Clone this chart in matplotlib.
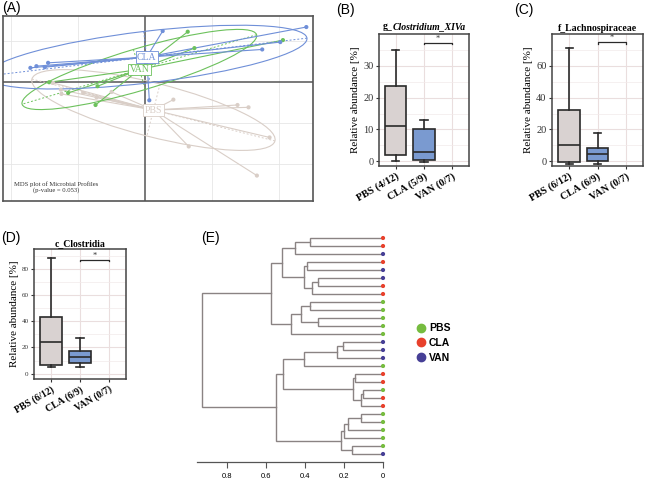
import numpy as np
import matplotlib
matplotlib.use("Agg")
import matplotlib.pyplot as plt
from matplotlib.patches import Ellipse
from matplotlib.lines import Line2D

W, H = 647, 479

#%% data
# (A) MDS coordinates per group
cla_x = [4.83, 0.53, 3.51, 4.05, -3.43, -3.25, -2.90, -3.00, 0.13]
cla_y = [1.64, 1.52, 0.97, 1.19, 0.42, 0.47, 0.57, 0.44, -0.55]
van_x = [1.28, 1.48, 4.13, -2.87, -2.30, -1.42, -1.48]
van_y = [1.50, 1.01, 1.25, -0.01, -0.33, -0.13, -0.69]
pbs_x = [0.85, 2.77, 3.10, 3.73, 1.31, 3.35, -2.75, -2.52, -2.50, -1.85, -1.45, -1.00]
pbs_y = [-0.53, -0.69, -0.76, -1.66, -1.93, -2.80, -0.03, -0.23, -0.36, -0.33, -0.46, -0.30]

# (B)-(D) box stats: whislo, q1, med, q3, whishi  (PBS, CLA); VAN all zero
b_pbs = [0.2, 2.0, 11.0, 23.5, 35.0]
b_cla = [-0.3, 0.5, 3.0, 10.0, 13.0]
c_pbs = [-1.8, -0.5, 10.0, 32.0, 71.0]
c_cla = [-1.8, 0.0, 4.5, 8.5, 17.5]
d_pbs = [5.5, 6.5, 24.5, 43.0, 88.5]
d_cla = [5.0, 8.0, 12.5, 17.5, 27.5]
b_labels = ["PBS (4/12)", "CLA (5/9)", "VAN (0/7)"]
c_labels = ["PBS (6/12)", "CLA (6/9)", "VAN (0/7)"]
d_labels = ["PBS (6/12)", "CLA (6/9)", "VAN (0/7)"]

# (E) dendrogram, leaves top to bottom
leaf_group = ['CLA', 'CLA', 'VAN', 'CLA', 'VAN', 'VAN', 'CLA', 'CLA',
              'PBS', 'PBS', 'PBS', 'PBS', 'PBS', 'VAN', 'VAN', 'VAN',
              'PBS', 'CLA', 'CLA', 'PBS', 'CLA', 'CLA', 'PBS', 'PBS',
              'PBS', 'PBS', 'PBS', 'VAN']
merge_a = [0, 28, 3, 5, 31, 30, 29, 8, 10, 35, 37, 34, 13, 40, 41, 17, 19, 44, 43, 42, 22, 48, 49, 26, 50, 47, 39]
merge_b = [1, 2, 4, 6, 7, 32, 33, 9, 11, 36, 12, 38, 14, 15, 16, 18, 20, 21, 45, 46, 23, 24, 25, 27, 51, 52, 53]
merge_h = [0.376, 0.452, 0.388, 0.336, 0.362, 0.405, 0.52, 0.374, 0.336, 0.422, 0.471, 0.576,
           0.203, 0.234, 0.405, 0.143, 0.105, 0.112, 0.155, 0.512, 0.112, 0.178, 0.202, 0.160,
           0.216, 0.548, 0.931]

fig = plt.figure(figsize=(W / 100, H / 100), dpi=100)


def px_axes(x0, y0, x1, y1):
    return fig.add_axes([x0 / W, 1 - y1 / H, (x1 - x0) / W, (y1 - y0) / H])


SERIF = "Liberation Serif"
SANS = "Liberation Sans"

#%% (A) MDS plot
ax = px_axes(3, 16, 313, 201)
ax.set_xlim(-4.25, 5.03)
ax.set_ylim(-3.56, 1.97)
for gx in [-4, -2, 2, 4]:
    ax.axvline(gx, color='#e6e6e6', lw=0.6, zorder=0)
for gy in [1.22, -1.22, -2.44]:
    ax.axhline(gy, color='#e6e6e6', lw=0.6, zorder=0)
ax.axvline(0, color='#555555', lw=1.1, zorder=1)
ax.axhline(0, color='#555555', lw=1.1, zorder=1)

groups = [("PBS", pbs_x, pbs_y, '#d9cec7'),
          ("VAN", van_x, van_y, '#6cc15c'),
          ("CLA", cla_x, cla_y, '#6f8fd8')]
for name, gx, gy, col in groups:
    gx = np.array(gx)
    gy = np.array(gy)
    cx, cy = gx.mean(), gy.mean()
    for x, y in zip(gx, gy):
        ax.plot([cx, x], [cy, y], color=col, lw=0.8, zorder=2)
    ax.scatter(gx, gy, s=9, color=col, zorder=3, edgecolors='none')
    cov = np.cov(gx, gy, bias=True)
    vals, vecs = np.linalg.eigh(cov)
    a_major = 1.5 * np.sqrt(vals[1])
    a_minor = 1.5 * np.sqrt(vals[0])
    ang = np.degrees(np.arctan2(vecs[1, 1], vecs[0, 1]))
    ax.add_patch(Ellipse((cx, cy), 2 * a_major, 2 * a_minor, angle=ang,
                         fill=False, ec=col, lw=0.8, zorder=2))
    v1 = vecs[:, 1] * a_major
    v0 = vecs[:, 0] * a_minor
    ax.plot([cx - v1[0], cx + v1[0]], [cy - v1[1], cy + v1[1]], color=col, lw=0.7, ls=(0, (2, 2)), zorder=2)
    ax.plot([cx - v0[0], cx + v0[0]], [cy - v0[1], cy + v0[1]], color=col, lw=0.7, ls=(0, (2, 2)), zorder=2)
    ax.text(cx, cy, name, family=SERIF, fontsize=7, color=col, ha='center', va='center', zorder=5,
            bbox=dict(boxstyle='square,pad=0.15', fc='white', ec=col, lw=0.6))

ax.text(0.17, 0.045, "MDS plot of Microbial Profiles\n(p-value = 0.053)", transform=ax.transAxes,
        family=SERIF, fontsize=4.8, ha='center', va='bottom', linespacing=1.0, color='#333333')
ax.set_xticks([])
ax.set_yticks([])
for s in ax.spines.values():
    s.set_color('#555555')
    s.set_linewidth(1.2)


#%% box plots
def box_panel(ax, pbs, cla, labels, ylim, yticks, sig_y, tick_fs, lab_fs):
    stats = []
    for st in [pbs, cla]:
        stats.append(dict(whislo=st[0], q1=st[1], med=st[2], q3=st[3], whishi=st[4], fliers=[]))
    ax.set_xlim(0.4, 3.6)
    ax.set_ylim(*ylim)
    # grid
    for xv in [1, 2, 3]:
        ax.axvline(xv, color='#eadede', lw=0.8, zorder=0)
    step = yticks[1] - yticks[0]
    for yv in yticks:
        ax.axhline(yv, color='#eadede', lw=0.8, zorder=0)
        ax.axhline(yv + step / 2, color='#f2eaea', lw=0.5, zorder=0)
    bp = ax.bxp(stats, positions=[1, 2], widths=0.75, capwidths=0.25, patch_artist=True,
                showfliers=False, manage_ticks=False)
    for patch, fc in zip(bp['boxes'], ['#d9d2d1', '#7a9ad0']):
        patch.set_facecolor(fc)
        patch.set_edgecolor('#2a2a2a')
        patch.set_linewidth(1.2)
        patch.set_zorder(3)
    for k in ['whiskers', 'caps', 'medians']:
        for ln in bp[k]:
            ln.set_color('#2a2a2a')
            ln.set_linewidth(1.2)
            ln.set_zorder(3)
    # significance bracket CLA vs VAN
    tk = (ylim[1] - ylim[0]) * 0.012
    ax.plot([2, 2, 3, 3], [sig_y - tk, sig_y, sig_y, sig_y - tk], color='#2a2a2a', lw=0.9)
    ax.text(2.5, sig_y, "*", ha='center', va='bottom', fontsize=6, family=SERIF, color='#333333')
    ax.set_xticks([1, 2, 3])
    ax.set_xticklabels(labels, rotation=30, ha='right', rotation_mode='anchor',
                       family=SERIF, fontweight='bold', fontsize=lab_fs)
    ax.set_yticks(yticks)
    ax.set_yticklabels([str(v) for v in yticks], family=SERIF, fontsize=tick_fs, color='#333333')
    ax.tick_params(length=2.5, width=0.8, color='#333333', pad=1.5)
    ax.set_ylabel("Relative abundance [%]", family=SERIF, fontsize=8, labelpad=2)
    for s in ax.spines.values():
        s.set_color('#444444')
        s.set_linewidth(1.1)


ax_b = px_axes(379, 34, 469, 166)
box_panel(ax_b, b_pbs, b_cla, b_labels, (-1.5, 40), [0, 10, 20, 30], 37.3, 7.5, 7.5)
t1 = ax_b.text(0.04, 1.025, "g_", transform=ax_b.transAxes, family=SERIF, fontweight='bold',
               fontsize=7, va='bottom', ha='left')
ax_b.annotate("Clostridium_XIVa", xy=(1, 0), xycoords=t1, va='bottom', ha='left',
              family=SERIF, fontweight='bold', style='italic', fontsize=7)

ax_c = px_axes(552, 34, 643, 166)
box_panel(ax_c, c_pbs, c_cla, c_labels, (-3, 80), [0, 20, 40, 60], 75, 7.5, 7.5)
ax_c.set_title("f_Lachnospiraceae", family=SERIF, fontweight='bold', fontsize=7, pad=2)

ax_d = px_axes(34, 249, 126, 379)
box_panel(ax_d, d_pbs, d_cla, d_labels, (-4, 95), [0, 20, 40, 60, 80], 87, 5, 7)
ax_d.set_title("c_Clostridia", family=SERIF, fontweight='bold', fontsize=7, pad=2)

#%% (E) dendrogram
ax_e = px_axes(190, 230, 392, 462)
ax_e.set_xlim(0.990, -0.046)
ax_e.set_ylim(29, 0)
pos = {i: i + 1 for i in range(len(leaf_group))}
hgt = {i: 0.0 for i in range(len(leaf_group))}
for k, (a, b, h) in enumerate(zip(merge_a, merge_b, merge_h)):
    node = len(leaf_group) + k
    ax_e.plot([hgt[a], h, h, hgt[b]], [pos[a], pos[a], pos[b], pos[b]], color='#8a8383', lw=1.0,
              solid_joinstyle='miter')
    pos[node] = (pos[a] + pos[b]) / 2
    hgt[node] = h
grp_col = {'PBS': '#76bc3f', 'CLA': '#e8412c', 'VAN': '#463f96'}
ax_e.scatter(np.zeros(len(leaf_group)), [pos[i] for i in range(len(leaf_group))],
             c=[grp_col[g] for g in leaf_group], s=9, zorder=4, clip_on=False, edgecolors='none')
for s in ['top', 'left', 'right']:
    ax_e.spines[s].set_visible(False)
ax_e.spines['bottom'].set_bounds(0, 0.955)
ax_e.spines['bottom'].set_color('#555555')
ax_e.spines['bottom'].set_linewidth(0.9)
ax_e.set_yticks([])
ax_e.set_xticks([0.8, 0.6, 0.4, 0.2, 0])
ax_e.set_xticklabels(["0.8", "0.6", "0.4", "0.2", "0"], family=SANS, fontsize=5.5)
ax_e.tick_params(axis='x', length=4, width=0.8, color='#555555', pad=4)
ax_e.patch.set_alpha(0)

handles = [Line2D([], [], marker='o', ls='', color=grp_col[g], markersize=6) for g in ['PBS', 'CLA', 'VAN']]
leg = fig.legend(handles, ['PBS', 'CLA', 'VAN'], loc='center left', bbox_to_anchor=(406 / W, 1 - 343 / H),
                 frameon=False, handletextpad=0.3, labelspacing=0.45, handlelength=1.0,
                 prop=dict(family=SANS, weight='bold', size=7.5))

#%% panel labels
for lab, x, y in [("(A)", 2, 1), ("(B)", 336, 3), ("(C)", 514, 3), ("(D)", 1, 231), ("(E)", 201, 231)]:
    fig.text(x / W, 1 - y / H, lab, family=SANS, fontsize=10, va='top', ha='left')

fig.savefig("out.png", dpi=100)
